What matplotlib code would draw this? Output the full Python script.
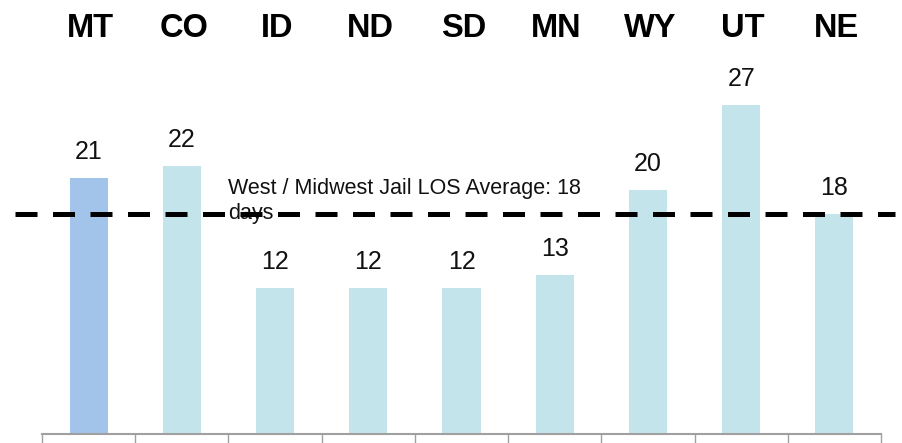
import matplotlib
matplotlib.use("Agg")
import matplotlib.pyplot as plt
import matplotlib.transforms as mtransforms

states = ["MT", "CO", "ID", "ND", "SD", "MN", "WY", "UT", "NE"]
los_days = [21, 22, 12, 12, 12, 13, 20, 27, 18]
average_los = 18
average_label = "West / Midwest Jail LOS Average: 18\ndays"

plt.rcParams['font.family'] = ['Liberation Sans', 'DejaVu Sans']

fig = plt.figure(figsize=(9.02, 4.43), dpi=100)
ax = fig.add_axes([42/902, 9/443, 839/902, 366/443])

colors = ["#A2C4EA"] + ["#C4E4EC"] * (len(states) - 1)
x = list(range(len(states)))
ax.bar(x, los_days, width=0.41, color=colors, zorder=2)

ax.set_xlim(-0.5, len(states) - 0.5)
ax.set_ylim(0, 30)

for s in ["top", "right", "left"]:
    ax.spines[s].set_visible(False)
ax.spines["bottom"].set_color("#A0A0A0")
ax.spines["bottom"].set_linewidth(1.5)
ax.set_yticks([])
ax.set_xticks([i - 0.5 for i in range(len(states) + 1)])
ax.set_xticklabels([])
ax.tick_params(axis="x", direction="out", length=6.5, width=1.0, color="#A0A0A0")

# value labels
for xi, v in zip(x, los_days):
    ax.annotate(str(v), (xi, v), xytext=(0, 13.7), textcoords="offset points",
                ha="center", va="baseline", fontsize=18, color="#111111")

# category labels on top
trans = mtransforms.blended_transform_factory(ax.transData, fig.transFigure)
for xi, s in zip(x, states):
    ax.text(xi + 0.02, (443 - 37) / 443, s, transform=trans, ha="center", va="baseline",
            fontsize=23.5, fontweight="bold", color="black")

# average text
ax.text(1.496, 21.0, average_label, ha="left", va="top", fontsize=15.5,
        color="#111111", zorder=3, linespacing=1.25)

# dashed average line
ytrans = ax.get_yaxis_transform()
ax.plot([-0.0322, 1.0167], [average_los, average_los], transform=ytrans,
        color="black", lw=3.6, dashes=(22/5, 15.5/5), clip_on=False, zorder=4,
        solid_capstyle="butt", dash_capstyle="butt")

fig.savefig("out.png", dpi=100)
